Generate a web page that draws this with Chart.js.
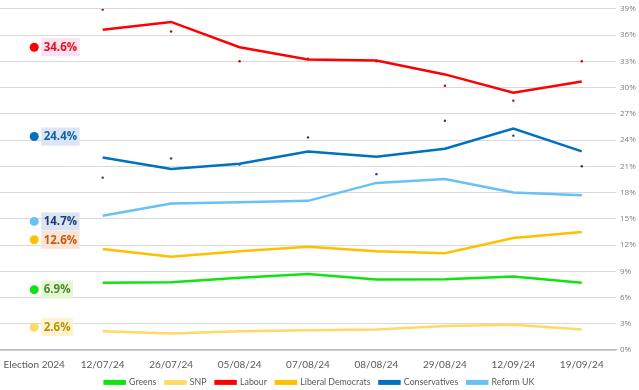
<!DOCTYPE html>
<html>
<head>
<meta charset="utf-8">
<script src="https://cdn.jsdelivr.net/npm/chart.js@4/dist/chart.umd.min.js"></script>
<style>
html,body{margin:0;padding:0;background:#fff;}
#wrap{width:639px;height:390px;}
</style>
</head>
<body>
<div id="wrap"><canvas id="graph"></canvas></div>
<script>

// categories
const labels=["Election 2024","12/07/24","26/07/24","05/08/24","07/08/24","08/08/24","29/08/24","12/09/24","19/09/24"];

// series (first value = election result, drawn as a dot with a label)
const greens=[6.9,7.7,7.75,8.25,8.7,8.05,8.1,8.4,7.7];
const snp=[2.6,2.15,1.9,2.15,2.25,2.35,2.75,2.9,2.35];
const labour=[34.6,36.6,37.5,34.6,33.2,33.1,31.5,29.4,30.7];
const libDem=[12.6,11.55,10.65,11.3,11.8,11.3,11.05,12.8,13.5];
const conservatives=[24.4,22.0,20.7,21.3,22.7,22.1,23.0,25.3,22.7];
const reform=[14.7,15.35,16.75,16.9,17.05,19.1,19.55,18.0,17.7];

// single-poll dots
const labourPoll=[null,38.9,36.4,33.0,33.3,33.0,30.2,28.5,33.0];
const conPoll=[null,19.7,21.9,21.2,24.3,20.1,26.2,24.5,21.0];

// y ticks
const yTicks=[0,3,6,9,12,15,18,21,24,27,30,33,36,39];

const parties=[
{name:"Greens",data:greens,color:"#11e311",text:"#4d8a2a",bg:"#e3f7d3"},
{name:"SNP",data:snp,color:"#ffd966",text:"#b8900a",bg:"#fff2cf"},
{name:"Labour",data:labour,color:"#ff0000",text:"#e3101e",bg:"#fbe1f1"},
{name:"Liberal Democrats",data:libDem,color:"#ffc000",text:"#c55a11",bg:"#fbe4d6"},
{name:"Conservatives",data:conservatives,color:"#0070c0",text:"#1063b0",bg:"#dbe5f3"},
{name:"Reform UK",data:reform,color:"#66c2f5",text:"#203d7a",bg:"#dbe5f2"}
];

let datasets=parties.map(p=>({
label:p.name,
data:p.data,
borderColor:p.color,
backgroundColor:p.color,
borderWidth:2.5,
tension:0,
pointRadius:ctx=>ctx.dataIndex===0?4.5:0,
pointHoverRadius:0,
pointBorderWidth:0,
segment:{borderColor:ctx=>ctx.p0DataIndex===0?"rgba(0,0,0,0)":undefined},
labelText:p.text,
labelBg:p.bg
}));

datasets.push({
label:"LabourPoll",
data:labourPoll,
showLine:false,
pointRadius:1.2,
pointBorderWidth:0,
backgroundColor:"#c00000",
borderColor:"#c00000"
});
datasets.push({
label:"ConPoll",
data:conPoll,
showLine:false,
pointRadius:1.2,
pointBorderWidth:0,
backgroundColor:"#1f3f70",
borderColor:"#1f3f70"
});

// labels next to the election dots
const electionLabels={
id:"electionLabels",
afterDatasetsDraw(chart){
let c=chart.ctx;
c.save();
c.font="bold 11.5px 'Open Sans', sans-serif";
c.textBaseline="middle";
chart.data.datasets.forEach((ds,i)=>{
if(!ds.labelText) return;
let pt=chart.getDatasetMeta(i).data[0];
let txt=ds.data[0].toFixed(1)+"%";
let w=c.measureText(txt).width;
let x=pt.x+7, y=pt.y;
c.fillStyle=ds.labelBg;
c.fillRect(x,y-9,w+5,18);
c.fillStyle=ds.labelText;
c.fillText(txt,x+2.5,y+0.5);
});
c.restore();
}
};

// keep the legend strip short so the plot reaches down like the original,
// and let the x labels draw below their (short) box without being clipped
const legendHeight={
id:"legendHeight",
afterInit(chart){
let lg=chart.legend;
let fit=lg.fit.bind(lg);
lg.fit=function(){fit();this.height=21;};
},
afterLayout(chart){
chart.scales.x.bottom=chart.height;
}
};

new Chart(document.getElementById("graph"),{
type:"line",
data:{labels:labels,datasets:datasets},
plugins:[electionLabels,legendHeight],
options:{
responsive:true,
maintainAspectRatio:false,
animation:false,
layout:{autoPadding:false,padding:{top:2,left:0,right:0,bottom:0}},
plugins:{
tooltip:{enabled:false},
legend:{
position:"bottom",
labels:{
filter:item=>item.datasetIndex<6,
boxWidth:20,
boxHeight:2.5,
padding:9,
color:"#595959",
font:{size:8.8,family:"Lato, sans-serif"}
}
}
},
scales:{
x:{
offset:true,
grid:{display:false,drawTicks:false},
border:{color:"#bfbfbf",width:1.5},
afterFit:axis=>{axis.height=19;axis.paddingLeft=0;axis.paddingRight=0;},
ticks:{color:"#595959",padding:9,maxRotation:0,autoSkip:false,font:{size:10,family:"Lato, sans-serif"}}
},
y:{
position:"right",
min:0,
max:39,
afterBuildTicks:axis=>{axis.ticks=yTicks.map(v=>({value:v}));},
grid:{color:"#d9d9d9",drawTicks:false},
border:{display:false},
afterFit:axis=>{axis.width=23;},
ticks:{color:"#7f7f7f",padding:4,font:{size:8,family:"'Open Sans', sans-serif"},callback:v=>v+"%"}
}
}
}
});

</script>
</body>
</html>
